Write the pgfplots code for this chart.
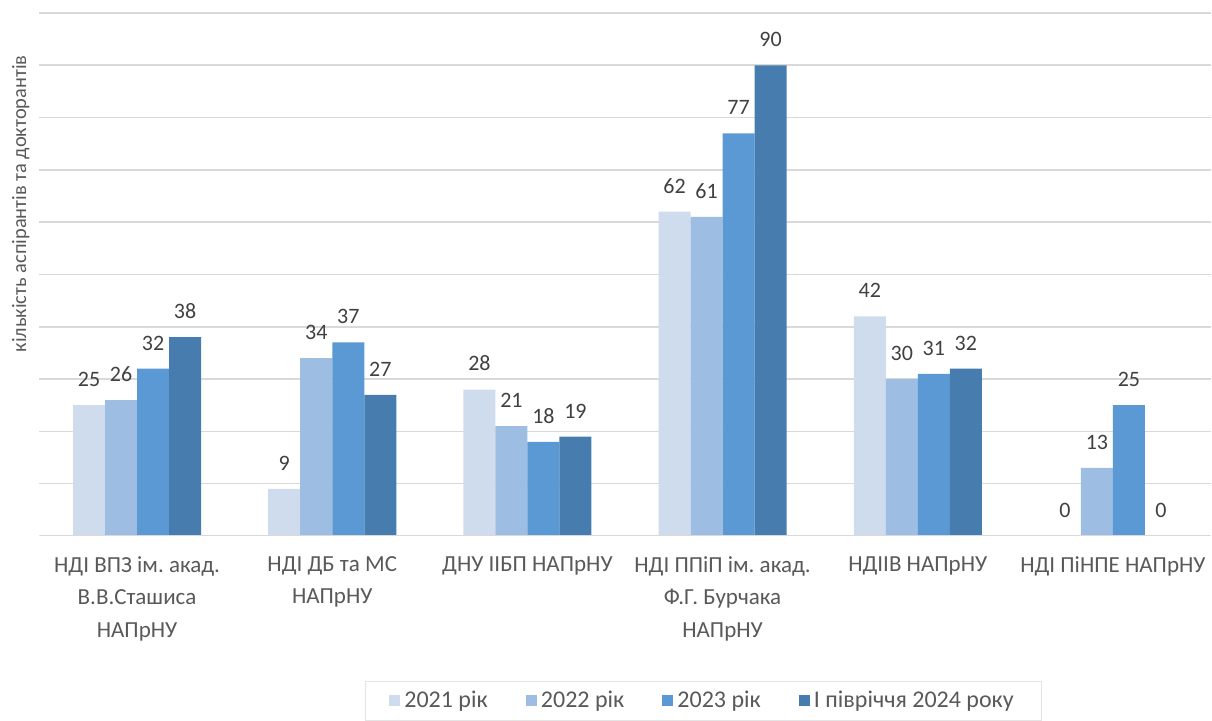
\documentclass[border=0pt]{standalone}
\usepackage{pgfplots}
\pgfplotsset{compat=1.18}
\usepackage{fontspec}
\setmainfont{Carlito}
\definecolor{cA}{HTML}{CFDCEE}
\definecolor{cB}{HTML}{9DBDE2}
\definecolor{cC}{HTML}{5A99D3}
\definecolor{cD}{HTML}{477CAE}
\definecolor{gridc}{HTML}{D9D9D9}
\definecolor{txt}{HTML}{595959}
\definecolor{lbl}{HTML}{404040}
\frenchspacing

\begin{document}
\begin{tikzpicture}
\begin{axis}[
    at={(0,0)}, anchor=south west,
    scale only axis,
    width=585.5pt, height=261.5pt,
    ybar=0pt, bar width=16pt,
    xmin=-0.5, xmax=5.5,
    ymin=0, ymax=100,
    ytick={10,20,...,100},
    yticklabels={},
    ymajorgrids,
    grid style={gridc, line width=0.8pt},
    major tick length=0pt,
    axis line style={draw=none},
    xtick={0,...,5},
    xticklabels={{НДІ ВПЗ ім. акад.\\В.В.Сташиса\\НАПрНУ},
                 {НДІ ДБ та МС\\НАПрНУ},
                 {ДНУ ІІБП НАПрНУ},
                 {НДІ ППіП ім. акад.\\Ф.Г. Бурчака\\НАПрНУ},
                 {НДІІВ НАПрНУ},
                 {НДІ ПіНПЕ НАПрНУ}},
    xticklabel style={align=center, text=txt, font={\fontsize{11.5}{16.2}\selectfont}, inner sep=0pt, yshift=-10pt},
    ylabel={кількість аспірантів та докторантів},
    ylabel style={at={(axis description cs:-0.016,0.635)}, anchor=center, text=txt,
        font=\fontsize{10.2}{13}\selectfont},
    /pgf/number format/assume math mode=true,
    nodes near coords,
    every node near coord/.append style={text=lbl, font=\fontsize{11}{13}\selectfont, inner sep=0pt, yshift=9pt},
    legend columns=4,
    legend style={at={(axis description cs:0.567,-0.315)}, anchor=center,
        draw=gridc!70, font=\fontsize{12}{14}\selectfont, text=txt,
        inner xsep=12pt, inner ysep=3pt,
        /tikz/every even column/.append style={column sep=17pt}},
    legend image code/.code={\fill[#1] (0pt,-2.8pt) rectangle (5.6pt,2.8pt);},
    every axis plot/.append style={draw=none},
]
\addplot[fill=cA] coordinates {(0,25) (1,9) (2,28) (3,62) (4,42) (5,0)};
\addplot[fill=cB] coordinates {(0,26) (1,34) (2,21) (3,61) (4,30) (5,13)};
\addplot[fill=cC] coordinates {(0,32) (1,37) (2,18) (3,77) (4,31) (5,25)};
\addplot[fill=cD] coordinates {(0,38) (1,27) (2,19) (3,90) (4,32) (5,0)};
\draw[gridc, line width=0.8pt] (axis cs:-0.5,0) -- (axis cs:5.5,0);
\legend{2021 рік, 2022 рік, 2023 рік, І півріччя 2024 року}
\end{axis}
\path[use as bounding box] (-19.75pt,-87.5pt) rectangle (586.25pt,268pt);
\end{tikzpicture}
\end{document}
